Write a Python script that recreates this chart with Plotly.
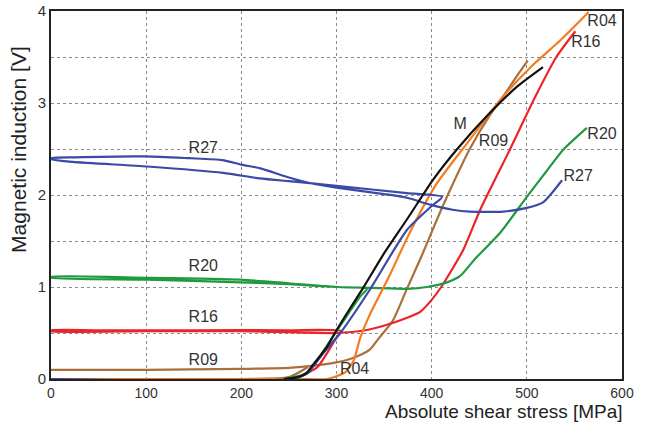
import plotly.graph_objects as go

# ---- data (stress in MPa, induction in V) ----
m_x = [245, 260, 268, 275, 290, 300, 315, 328, 349, 375, 401, 426, 460, 490, 517]
m_y = [0.0, 0.02, 0.06, 0.15, 0.35, 0.53, 0.78, 0.99, 1.35, 1.75, 2.16, 2.49, 2.88, 3.18, 3.39]

r04_x = [0, 150, 260, 290, 300, 310, 318, 325, 335, 356, 375, 405, 440, 475, 505, 535, 565]
r04_y = [0.0, 0.0, 0.0, 0.0, 0.03, 0.08, 0.2, 0.45, 0.7, 1.13, 1.55, 2.12, 2.6, 3.07, 3.4, 3.68, 3.99]

r09_x = [0, 100, 200, 250, 280, 300, 320, 335, 345, 359, 374, 390, 405, 420, 440, 460, 475, 490, 501]
r09_y = [0.10, 0.10, 0.11, 0.12, 0.15, 0.18, 0.24, 0.32, 0.45, 0.63, 0.98, 1.35, 1.72, 2.07, 2.5, 2.85, 3.07, 3.3, 3.46]
r09_lo_x = [0, 100, 200, 250, 270]
r09_lo_y = [0.0, 0.0, 0.0, 0.02, 0.13]

r16_x = [0, 240, 262, 280, 300, 305, 250, 150, 50, 0, 0, 100, 200, 300, 330, 353, 370, 388, 400, 410, 433, 451, 482, 507, 531, 551]
r16_y = [0.0, 0.0, 0.03, 0.13, 0.45, 0.52, 0.53, 0.53, 0.53, 0.53, 0.52, 0.52, 0.52, 0.5, 0.53, 0.59, 0.65, 0.73, 0.86, 1.0, 1.40, 1.84, 2.49, 3.03, 3.5, 3.78]

r20_x = [0, 245, 269, 286, 300, 306, 315, 325, 332, 300, 250, 199, 101, 0, 0, 101, 199, 250, 300, 338, 374, 395, 416, 430, 445, 472, 500, 520, 538, 563]
r20_y = [0.0, 0.0, 0.07, 0.3, 0.52, 0.61, 0.75, 0.9, 0.98, 1.0, 1.03, 1.05, 1.08, 1.10, 1.11, 1.10, 1.08, 1.04, 1.0, 0.99, 0.98, 1.0, 1.05, 1.12, 1.3, 1.59, 1.98, 2.25, 2.49, 2.73]

r27_x = [0, 250, 269, 286, 304, 335, 374, 400, 411,
         374, 300, 272, 250, 219, 181, 101, 23, 0,
         0, 25, 100, 145, 180, 200, 220, 250, 272, 300, 350, 374, 400, 422, 440, 475, 500, 517, 527, 537]
r27_y = [0.0, 0.0, 0.06, 0.28, 0.5, 0.97, 1.62, 1.88, 1.98,
         2.02, 2.10, 2.13, 2.15, 2.18, 2.24, 2.31, 2.36, 2.39,
         2.40, 2.41, 2.42, 2.40, 2.38, 2.33, 2.29, 2.19, 2.13, 2.08, 2.01, 1.97, 1.89, 1.84, 1.82, 1.82, 1.86, 1.92, 2.03, 2.16]

label_text = ["R27", "R20", "R16", "R09", "R04", "M", "R09", "R04", "R16", "R20", "R27"]
label_x = [160, 160, 160, 160, 319, 430, 465, 579, 562, 579, 554]
label_y = [2.50, 1.22, 0.66, 0.20, 0.10, 2.76, 2.58, 3.88, 3.65, 2.65, 2.20]

x_ticks = [0, 100, 200, 300, 400, 500, 600]
y_ticks = [0, 0.5, 1, 1.5, 2, 2.5, 3, 3.5, 4]
y_tick_text = ["0", "", "1", "", "2", "", "3", "", "4"]

BLUE = "#3a4aa6"
GREEN = "#1f9a3e"
RED = "#ec2428"
BROWN = "#a8703c"
ORANGE = "#f57b1f"
BLACK = "#111111"
FONT = "Liberation Sans, Arial, sans-serif"

fig = go.Figure()
series = [
    (r09_lo_x, r09_lo_y, BROWN),
    (r09_x, r09_y, BROWN),
    (r16_x, r16_y, RED),
    (r20_x, r20_y, GREEN),
    (r04_x, r04_y, ORANGE),
    (r27_x, r27_y, BLUE),
    (m_x, m_y, BLACK),
]
for xs, ys, c in series:
    fig.add_trace(go.Scatter(x=xs, y=ys, mode="lines",
                             line=dict(color=c, width=2.2, shape="spline", smoothing=0.6),
                             showlegend=False, hoverinfo="skip"))

fig.add_trace(go.Scatter(x=label_x, y=label_y, mode="text", text=label_text,
                         textfont=dict(family=FONT, size=16, color="#333333"),
                         showlegend=False, hoverinfo="skip"))

axis_common = dict(showline=True, linecolor="#222222", linewidth=2, mirror=True,
                   gridcolor="#8a8a8a", griddash="dot", gridwidth=1, zeroline=False,
                   ticks="", automargin=False)

fig.update_xaxes(range=[0, 600], tickvals=x_ticks, ticklabelstandoff=0,
                 tickfont=dict(family=FONT, size=14, color="#333333"), **axis_common)
fig.update_yaxes(range=[0, 4], tickvals=y_ticks, ticktext=y_tick_text, ticklabelstandoff=0,
                 tickfont=dict(family=FONT, size=15, color="#333333"), **axis_common)

fig.add_annotation(text="Absolute shear stress [MPa]", xref="paper", yref="paper",
                   x=1.006, y=-0.088, xanchor="right", yanchor="middle", showarrow=False,
                   font=dict(family=FONT, size=19, color="#222222"))
fig.add_annotation(text="Magnetic induction [V]", xref="paper", yref="paper",
                   x=-0.058, y=0.625, xanchor="center", yanchor="middle", textangle=-90,
                   showarrow=False,
                   font=dict(family=FONT, size=21, color="#222222"))

fig.update_layout(width=647, height=422, autosize=False,
                  margin=dict(l=51, r=25, t=11, b=43),
                  plot_bgcolor="white", paper_bgcolor="white")

fig.write_html("out.html", config={"displayModeBar": False},
               post_script="document.body.style.margin='0px';")
